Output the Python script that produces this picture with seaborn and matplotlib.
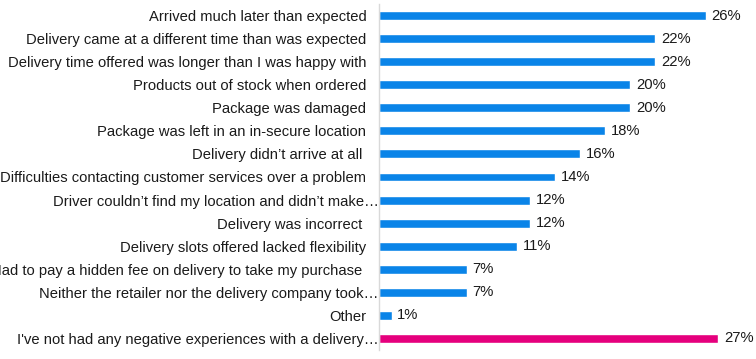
import pandas as pd
import matplotlib.pyplot as plt
import matplotlib.transforms as mtransforms
import seaborn as sns

categories = [
    "Arrived much later than expected",
    "Delivery came at a different time than was expected",
    "Delivery time offered was longer than I was happy with",
    "Products out of stock when ordered",
    "Package was damaged",
    "Package was left in an in-secure location",
    "Delivery didn\u2019t arrive at all ",
    "Difficulties contacting customer services over a problem",
    "Driver couldn\u2019t find my location and didn\u2019t make\u2026",
    "Delivery was incorrect ",
    "Delivery slots offered lacked flexibility",
    "Had to pay a hidden fee on delivery to take my purchase ",
    "Neither the retailer nor the delivery company took\u2026",
    "Other",
    "I've not had any negative experiences with a delivery\u2026",
]
values = [26, 22, 22, 20, 20, 18, 16, 14, 12, 12, 11, 7, 7, 1, 27]
groups = ["neg"] * 14 + ["none"]

df = pd.DataFrame({"label": categories, "value": values, "group": groups})

sns.set_style("white")
plt.rcParams['font.family'] = ['Liberation Sans', 'DejaVu Sans']

fig = plt.figure(figsize=(7.56, 3.59), dpi=100)
ax = fig.add_axes([379 / 756, 1 - 350 / 359, 377 / 756, 346 / 359])
sns.barplot(data=df, y="label", x="value", hue="group",
            palette={"neg": "#0A84E8", "none": "#E5007D"},
            saturation=1, width=0.39, dodge=False, legend=False, ax=ax)

ax.set_xlim(0, 30)
ax.set_ylim(14.5, -0.5)
ax.set_xlabel("")
ax.set_ylabel("")
ax.set_xticks([])
ax.tick_params(axis='y', length=0, pad=9, labelsize=10.6, labelcolor="#1a1a1a")
for s in ["top", "right", "bottom"]:
    ax.spines[s].set_visible(False)
ax.spines["left"].set_color("#d9d9d9")
ax.spines["left"].set_linewidth(1)

# truncated labels run past the others, up to the axis line
shift = mtransforms.ScaledTranslation(12 / 100, 0, fig.dpi_scale_trans)
for lab in ax.get_yticklabels():
    if lab.get_text().endswith("\u2026"):
        lab.set_transform(lab.get_transform() + shift)

for i, v in enumerate(values):
    ax.text(v + 0.45, i, f"{v}%", va="center", ha="left", fontsize=10.6, color="#1a1a1a")

fig.savefig("out.png", dpi=100)
